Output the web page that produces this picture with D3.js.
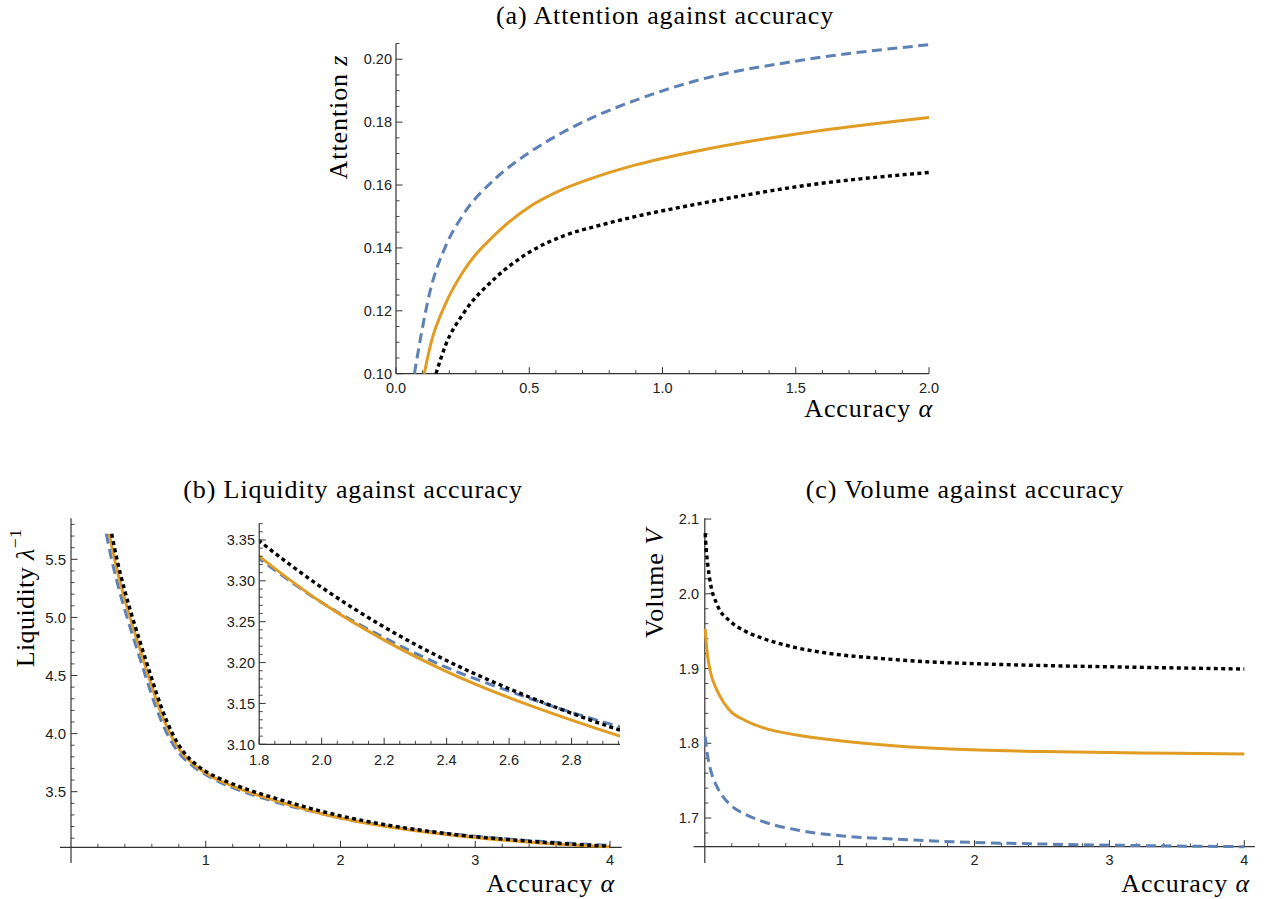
<!DOCTYPE html>
<html><head><meta charset="utf-8">
<script src="https://cdn.jsdelivr.net/npm/d3@7"></script>
<style>body{margin:0;background:#fff} svg{display:block}</style>
</head><body><svg id="chart" width="1264" height="899"></svg>
<script>
// ---------------- DATA ----------------
// (a) Attention z against accuracy alpha
const attnAlphaBlue   = [0.069,0.094,0.125,0.1875,0.25,0.375,0.5,0.625,0.765,0.9,1.14,1.515,2.0];
const attnBlue        = [0.100,0.1122,0.1252,0.1408,0.1503,0.1622,0.1703,0.1767,0.1825,0.1870,0.1935,0.1996,0.2046];
const attnAlphaOrange = [0.106,0.13,0.1875,0.25,0.375,0.5,0.625,0.765,0.9,1.14,1.515,2.0];
const attnOrange      = [0.100,0.1093,0.1225,0.1322,0.1445,0.1530,0.1586,0.1630,0.1664,0.1710,0.1764,0.1815];
const attnAlphaBlack  = [0.15,0.1875,0.25,0.375,0.5,0.625,0.765,0.9,1.14,1.515,2.0];
const attnBlack       = [0.100,0.1094,0.1188,0.1306,0.1386,0.1437,0.1472,0.1500,0.1541,0.1596,0.1640];

// (b) Liquidity 1/lambda against accuracy alpha
const liqAlphaBlue   = [0.262,0.305,0.358,0.416,0.478,0.552,0.628,0.713,0.798,0.888,1.0,1.1,1.2,1.33,1.45,1.6,1.8,2.0,2.2,2.4,2.6,2.8,2.955,3.25,3.5,3.75,4.0];
const liqBlue        = [5.72,5.48,5.235,5.00,4.77,4.50,4.235,4.00,3.8385,3.735,3.647,3.585,3.535,3.480,3.436,3.385,3.327,3.2735,3.2305,3.194,3.165,3.139,3.1215,3.092,3.071,3.053,3.037];
const liqAlphaOrange = [0.284,0.327,0.38,0.438,0.5,0.574,0.65,0.735,0.82,0.91,1.0,1.1,1.2,1.33,1.45,1.6,1.8,2.0,2.2,2.4,2.6,2.8,2.955,3.25,3.5,3.75,4.0];
const liqOrange      = [5.72,5.48,5.235,5.00,4.77,4.50,4.235,4.00,3.8385,3.735,3.660,3.598,3.548,3.492,3.447,3.394,3.330,3.2735,3.2275,3.189,3.157,3.1295,3.110,3.079,3.057,3.040,3.027];
const liqAlphaBlack  = [0.302,0.345,0.398,0.456,0.518,0.592,0.668,0.753,0.838,0.928,1.0,1.1,1.2,1.33,1.45,1.6,1.8,2.0,2.2,2.4,2.6,2.8,2.955,3.25,3.5,3.75,4.0];
const liqBlack       = [5.72,5.48,5.235,5.00,4.77,4.50,4.235,4.00,3.8385,3.735,3.675,3.615,3.566,3.511,3.467,3.415,3.349,3.292,3.2435,3.2025,3.168,3.138,3.1174,3.088,3.065,3.046,3.030];

// (c) Volume V against accuracy alpha
const volAlphaBlue   = [0.003,0.01,0.028,0.053,0.09,0.19,0.3,0.436,0.683,1.0,1.4,1.82,2.5,3.0,3.5,4.0];
const volBlue        = [1.809,1.797,1.776,1.758,1.742,1.7174,1.705,1.695,1.684,1.6763,1.6718,1.6683,1.6652,1.6637,1.6625,1.6616];
const volAlphaOrange = [0.003,0.01,0.02,0.041,0.09,0.14,0.19,0.3,0.436,0.683,1.0,1.4,1.82,2.5,3.0,3.5,4.0];
const volOrange      = [1.953,1.936,1.918,1.896,1.871,1.8545,1.843,1.8305,1.8205,1.811,1.8034,1.7968,1.7923,1.789,1.7875,1.7865,1.7856];
const volAlphaBlack  = [0.003,0.01,0.02,0.041,0.09,0.19,0.3,0.436,0.65,0.93,1.3,1.647,2.0,2.5,3.0,3.5,4.0];
const volBlack       = [2.081,2.060,2.042,2.015,1.986,1.963,1.950,1.940,1.929,1.920,1.9135,1.9091,1.9065,1.9040,1.9023,1.9008,1.8993];

// tick labels
const attnXTicks = [0, 0.5, 1.0, 1.5, 2.0];
const attnYTicks = [0.10, 0.12, 0.14, 0.16, 0.18, 0.20];
const liqXTicks  = [1, 2, 3, 4];
const liqYTicks  = [3.5, 4.0, 4.5, 5.0, 5.5];
const insetXTicks = [1.8, 2.0, 2.2, 2.4, 2.6, 2.8];
const insetYTicks = [3.10, 3.15, 3.20, 3.25, 3.30, 3.35];
const volXTicks  = [1, 2, 3, 4];
const volYTicks  = [1.7, 1.8, 1.9, 2.0, 2.1];

// ---------------- STYLE ----------------
const SERIF = "'Liberation Serif', 'Times New Roman', serif";
const SANS = "'Liberation Sans', Arial, sans-serif";
const AXIS = "#333";
const styles = {
  blue:   {color: "#5E81B5", dash: "10,5.5", width: 3},
  orange: {color: "#E19C24", dash: null,     width: 3},
  black:  {color: "#000000", dash: "4,3.4",  width: 3.4}
};

const svg = d3.select("#chart");
svg.append("rect").attr("width",1264).attr("height",899).attr("fill","#fff");
const defs = svg.append("defs");

function series(g, xs, ys, x, y, st) {
  const pts = xs.map((a,i)=>[a, ys[i]]);
  const line = d3.line().x(d=>x(d[0])).y(d=>y(d[1])).curve(d3.curveMonotoneX);
  g.append("path").attr("d", line(pts)).attr("fill","none")
    .attr("stroke", st.color).attr("stroke-width", st.width)
    .attr("stroke-dasharray", st.dash).attr("stroke-linecap","butt")
    .attr("stroke-linejoin","round");
}

function hline(g, x1, x2, yv) {
  g.append("line").attr("x1",x1).attr("x2",x2).attr("y1",yv).attr("y2",yv)
   .attr("stroke",AXIS).attr("stroke-width",1.2);
}
function vline(g, xv, y1, y2) {
  g.append("line").attr("x1",xv).attr("x2",xv).attr("y1",y1).attr("y2",y2)
   .attr("stroke",AXIS).attr("stroke-width",1.2);
}

function yTicks(g, y, x0, majors, minors, fmt, labelX, size) {
  minors.forEach(v => g.append("line").attr("x1",x0).attr("x2",x0+3.5)
    .attr("y1",y(v)).attr("y2",y(v)).attr("stroke",AXIS).attr("stroke-width",0.9));
  majors.forEach(v => {
    g.append("line").attr("x1",x0).attr("x2",x0+6.5).attr("y1",y(v)).attr("y2",y(v))
      .attr("stroke",AXIS).attr("stroke-width",1);
    g.append("text").attr("x",labelX).attr("y",y(v)).attr("dy","0.36em")
      .attr("text-anchor","end").attr("font-family",SANS).attr("font-size",size)
      .attr("fill","#222").text(fmt(v));
  });
}
function xTicks(g, x, y0, majors, minors, fmt, labelY, size) {
  minors.forEach(v => g.append("line").attr("x1",x(v)).attr("x2",x(v))
    .attr("y1",y0).attr("y2",y0-3.5).attr("stroke",AXIS).attr("stroke-width",0.9));
  majors.forEach(v => {
    g.append("line").attr("x1",x(v)).attr("x2",x(v)).attr("y1",y0).attr("y2",y0-6.5)
      .attr("stroke",AXIS).attr("stroke-width",1);
    g.append("text").attr("x",x(v)).attr("y",labelY)
      .attr("text-anchor","middle").attr("font-family",SANS).attr("font-size",size)
      .attr("fill","#222").text(fmt(v));
  });
}

function label(g, x, y, parts, opts) {
  const t = g.append("text").attr("font-family",SERIF).attr("font-size",opts.size||26)
    .attr("letter-spacing", opts.ls!=null?opts.ls:0.9)
    .attr("text-anchor",opts.anchor||"middle").attr("fill","#000");
  if (opts.rotate) t.attr("transform",`translate(${x},${y}) rotate(-90)`);
  else t.attr("x",x).attr("y",y);
  parts.forEach(p => {
    const s = t.append("tspan").text(p.t);
    if (p.i) s.attr("font-style","italic");
    if (p.sup) s.attr("font-size","0.68em").attr("dy","-0.75em");
  });
}

function minorRange(a, b, step, majors) {
  return d3.range(Math.round(a/step), Math.round(b/step)+1).map(k=>+(k*step).toFixed(6))
    .filter(v => v>=a-1e-9 && v<=b+1e-9 && !majors.some(m=>Math.abs(m-v)<1e-9));
}

// ---------------- PANEL (a) ----------------
{
  const g = svg.append("g");
  const x = d3.scaleLinear().domain([0,2]).range([396,929]);
  const y = d3.scaleLinear().domain([0.10,0.205]).range([373.7,43.5]);
  vline(g, x(0), y(0.205), y(0.10));
  hline(g, x(0), x(2), y(0.10));
  yTicks(g, y, x(0), attnYTicks, minorRange(0.10,0.205,0.005,attnYTicks), d3.format(".2f"), 392, 14.5);
  xTicks(g, x, y(0.10), attnXTicks, minorRange(0,2,0.1,attnXTicks), d3.format(".1f"), 393, 14.5);
  series(g, attnAlphaBlue, attnBlue, x, y, styles.blue);
  series(g, attnAlphaOrange, attnOrange, x, y, styles.orange);
  series(g, attnAlphaBlack, attnBlack, x, y, styles.black);
  label(g, 665, 24, [{t:"(a) Attention against accuracy"}], {});
  label(g, 347, 117, [{t:"Attention "},{t:"z",i:true}], {rotate:true});
  label(g, 933, 417, [{t:"Accuracy "},{t:"α",i:true}], {anchor:"end"});
}

// ---------------- PANEL (b) ----------------
{
  const g = svg.append("g");
  const x = d3.scaleLinear().domain([0,4]).range([71,610]);
  const y = d3.scaleLinear().domain([3.0215,5.853]).range([847.3,518.3]);
  vline(g, x(0), y(5.853), y(2.886));
  hline(g, x(-0.082), x(4.087), y(3.0215));
  yTicks(g, y, x(0), liqYTicks, minorRange(3.1,5.8,0.1,liqYTicks), d3.format(".1f"), 66, 15);
  xTicks(g, x, y(3.0215), liqXTicks, minorRange(0.2,4,0.2,liqXTicks), d3.format("d"), 865, 14.5);
  series(g, liqAlphaBlue, liqBlue, x, y, styles.blue);
  series(g, liqAlphaOrange, liqOrange, x, y, styles.orange);
  series(g, liqAlphaBlack, liqBlack, x, y, styles.black);

  // inset
  const xi = d3.scaleLinear().domain([1.8,2.955]).range([259.2,620]);
  const yi = d3.scaleLinear().domain([3.10,3.3704]).range([744.3,523.3]);
  defs.append("clipPath").attr("id","insetClip").append("rect")
    .attr("x",xi(1.8)).attr("y",yi(3.3704)).attr("width",xi(2.955)-xi(1.8)).attr("height",yi(3.10)-yi(3.3704));
  const gi = g.append("g");
  gi.append("rect").attr("x",xi(1.8)).attr("y",yi(3.3704)).attr("width",xi(2.955)-xi(1.8))
    .attr("height",yi(3.10)-yi(3.3704)).attr("fill","#fff");
  const gc = gi.append("g").attr("clip-path","url(#insetClip)");
  series(gc, liqAlphaBlue, liqBlue, xi, yi, styles.blue);
  series(gc, liqAlphaOrange, liqOrange, xi, yi, styles.orange);
  series(gc, liqAlphaBlack, liqBlack, xi, yi, styles.black);
  vline(gi, xi(1.8), yi(3.3704), yi(3.10));
  hline(gi, xi(1.8), xi(2.955), yi(3.10));
  yTicks(gi, yi, xi(1.8), insetYTicks, minorRange(3.10,3.37,0.01,insetYTicks), d3.format(".2f"), 255, 14.5);
  xTicks(gi, xi, yi(3.10), insetXTicks, minorRange(1.8,2.95,0.05,insetXTicks), d3.format(".1f"), 765, 14.5);

  label(g, 353, 498, [{t:"(b) Liquidity against accuracy"}], {});
  label(g, 34, 598, [{t:"Liquidity "},{t:"λ",i:true},{t:"−1",sup:true}], {rotate:true, ls:0.4});
  label(g, 615, 892, [{t:"Accuracy "},{t:"α",i:true}], {anchor:"end"});
}

// ---------------- PANEL (c) ----------------
{
  const g = svg.append("g");
  const x = d3.scaleLinear().domain([0,4]).range([704.8,1244.3]);
  const y = d3.scaleLinear().domain([1.6616,2.101]).range([846.7,518.3]);
  vline(g, x(0), y(2.101), y(1.6398));
  hline(g, x(-0.083), x(4.078), y(1.6616));
  yTicks(g, y, x(0), volYTicks, minorRange(1.68,2.10,0.02,volYTicks), d3.format(".1f"), 699, 14.5);
  xTicks(g, x, y(1.6616), volXTicks, minorRange(0.2,4,0.2,volXTicks), d3.format("d"), 865, 14.5);
  series(g, volAlphaBlue, volBlue, x, y, styles.blue);
  series(g, volAlphaOrange, volOrange, x, y, styles.orange);
  series(g, volAlphaBlack, volBlack, x, y, styles.black);
  label(g, 965, 498, [{t:"(c) Volume against accuracy"}], {});
  label(g, 663, 583, [{t:"Volume "},{t:"V",i:true}], {rotate:true});
  label(g, 1250, 892, [{t:"Accuracy "},{t:"α",i:true}], {anchor:"end"});
}
</script></body></html>
